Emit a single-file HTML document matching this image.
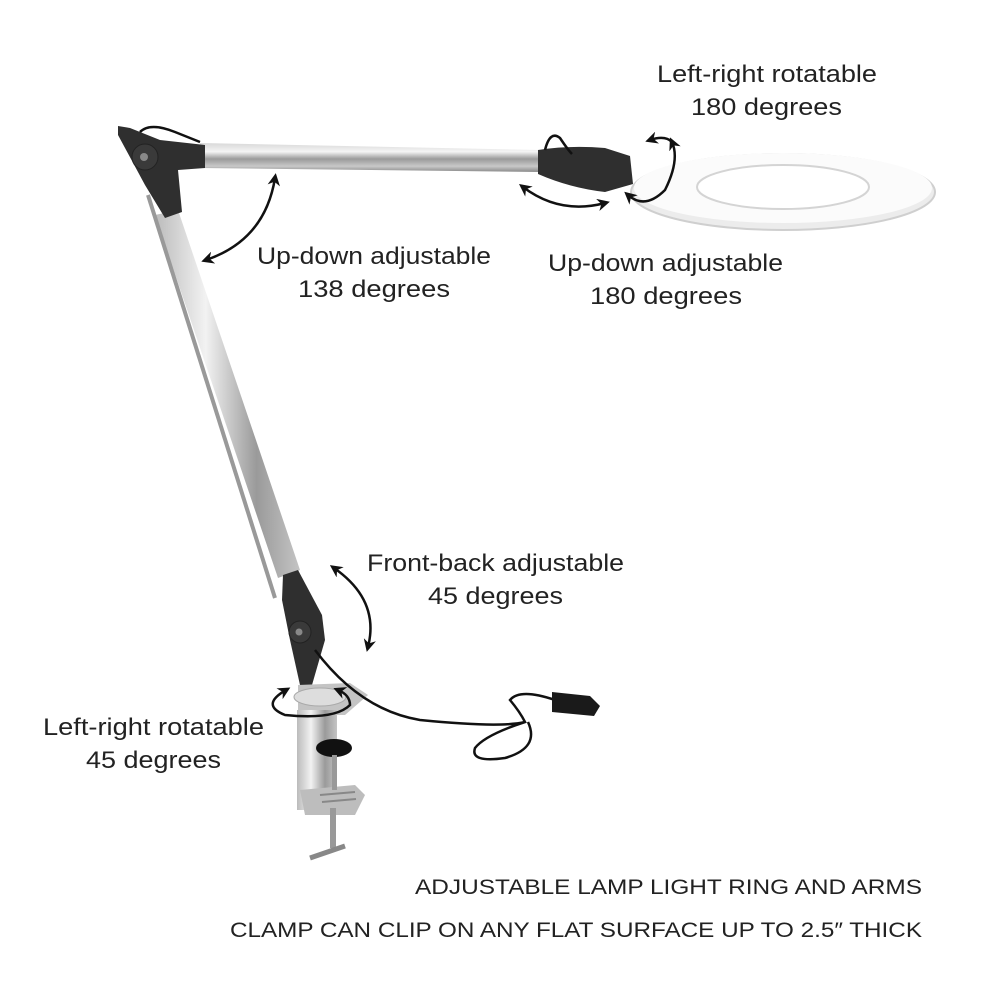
<!DOCTYPE html>
<html><head><style>
html,body{margin:0;padding:0;background:#fff;}
svg{display:block;}
text{font-family:"Liberation Sans",sans-serif;fill:#222;}
</style></head><body>
<svg width="1000" height="1000" viewBox="0 0 1000 1000" xmlns="http://www.w3.org/2000/svg">
<defs>
<marker id="ah" viewBox="0 0 10 10" refX="6" refY="5" markerWidth="5" markerHeight="5" orient="auto-start-reverse">
<path d="M0,0 L10,5 L0,10 L3,5 z" fill="#111"/></marker>
<linearGradient id="sil" x1="0" y1="0" x2="0" y2="1">
<stop offset="0" stop-color="#d8d8d8"/><stop offset="0.3" stop-color="#f4f4f4"/><stop offset="0.55" stop-color="#9a9a9a"/><stop offset="0.8" stop-color="#c8c8c8"/><stop offset="1" stop-color="#888"/></linearGradient>
<linearGradient id="sil2" x1="0" y1="0" x2="1" y2="0">
<stop offset="0" stop-color="#bbb"/><stop offset="0.35" stop-color="#f2f2f2"/><stop offset="0.7" stop-color="#9a9a9a"/><stop offset="1" stop-color="#c4c4c4"/></linearGradient>
</defs>

<!-- ring -->
<ellipse cx="783" cy="192" rx="152" ry="38" fill="#ececec" stroke="#cfcfcf" stroke-width="2"/>
<ellipse cx="783" cy="188" rx="149" ry="35" fill="#fbfbfb"/>
<ellipse cx="783" cy="187" rx="86" ry="22" fill="#fff" stroke="#d4d4d4" stroke-width="2"/>

<!-- top arm -->
<path d="M200,143 L540,150 L540,172 L200,168 Z" fill="url(#sil)"/>
<!-- head joint -->
<path d="M538,150 Q570,145 605,148 L630,156 L633,184 L605,192 Q570,188 538,174 Z" fill="#2f2f2f"/>
<path d="M545,150 Q550,130 560,138 Q568,150 572,154" fill="none" stroke="#111" stroke-width="2.5"/>
<!-- long arm -->
<path d="M155,215 L178,210 L300,570 L278,578 Z" fill="url(#sil2)"/>
<path d="M148,195 L275,598" stroke="#999" stroke-width="4"/>
<!-- top-left joint -->
<path d="M118,126 L130,128 L160,140 L205,145 L205,168 L178,170 L182,212 L165,218 L145,185 L118,135 Z" fill="#2f2f2f"/>
<circle cx="145" cy="157" r="13" fill="#3a3a3a" stroke="#222"/>
<circle cx="144" cy="157" r="4" fill="#888"/>
<path d="M140,132 Q150,122 175,132 L200,142" fill="none" stroke="#111" stroke-width="2.5"/>
<!-- lower joint -->
<path d="M283,575 L298,570 L322,615 L325,640 L312,685 L300,685 L290,640 L282,600 Z" fill="#2f2f2f"/>
<circle cx="300" cy="632" r="11" fill="#3a3a3a" stroke="#222"/>
<circle cx="299" cy="632" r="3.5" fill="#888"/>
<!-- base -->
<path d="M298,685 L350,683 L368,695 L345,715 L298,715 Z" fill="#c4c4c4"/>
<ellipse cx="320" cy="697" rx="26" ry="9" fill="#ddd" stroke="#aaa"/>
<rect x="297" y="710" width="40" height="100" fill="url(#sil2)"/>
<path d="M300,790 L355,785 L365,795 L355,815 L305,815 Z" fill="#bdbdbd"/>
<path d="M320,795 L355,792 M322,802 L356,799" stroke="#888" stroke-width="2"/>
<rect x="330" y="808" width="6" height="40" fill="#999"/>
<path d="M310,858 L345,846" stroke="#888" stroke-width="5"/>
<ellipse cx="334" cy="748" rx="18" ry="9" fill="#111"/>
<rect x="332" y="755" width="5" height="35" fill="#999"/>
<!-- cord -->
<path d="M315,650 Q360,710 420,720 Q500,728 525,722 Q520,712 510,700 Q520,688 555,700 M528,722 Q540,748 505,758 Q470,763 475,748 Q485,735 525,722" fill="none" stroke="#111" stroke-width="2.5"/>
<path d="M552,692 L590,696 L600,706 L594,716 L552,712 Z" fill="#1a1a1a"/>

<!-- arrows -->
<g fill="none" stroke="#111" stroke-width="2.5">
<path d="M206,260 Q265,240 275,178" marker-start="url(#ah)" marker-end="url(#ah)"/>
<path d="M523,187 Q560,215 605,203" marker-start="url(#ah)" marker-end="url(#ah)"/>
<path d="M672,142 Q680,160 665,190 Q645,210 628,195" marker-start="url(#ah)" marker-end="url(#ah)"/>
<path d="M672,142 Q665,135 650,140" marker-end="url(#ah)"/>
<path d="M334,568 Q380,600 368,647" marker-start="url(#ah)" marker-end="url(#ah)"/>
<path d="M286,690 Q260,705 285,715 Q335,720 350,705 Q350,695 338,690" marker-start="url(#ah)" marker-end="url(#ah)"/>
</g>

<!-- labels -->
<g font-size="24" lengthAdjust="spacingAndGlyphs">
<text x="657" y="82" textLength="220" lengthAdjust="spacingAndGlyphs">Left-right rotatable</text>
<text x="691" y="115" textLength="151" lengthAdjust="spacingAndGlyphs">180 degrees</text>
<text x="257" y="264" textLength="234" lengthAdjust="spacingAndGlyphs">Up-down adjustable</text>
<text x="298" y="297" textLength="152" lengthAdjust="spacingAndGlyphs">138 degrees</text>
<text x="548" y="271" textLength="235" lengthAdjust="spacingAndGlyphs">Up-down adjustable</text>
<text x="590" y="304" textLength="152" lengthAdjust="spacingAndGlyphs">180 degrees</text>
<text x="367" y="571" textLength="257" lengthAdjust="spacingAndGlyphs">Front-back adjustable</text>
<text x="428" y="604" textLength="135" lengthAdjust="spacingAndGlyphs">45 degrees</text>
<text x="43" y="735" textLength="221" lengthAdjust="spacingAndGlyphs">Left-right rotatable</text>
<text x="86" y="768" textLength="135" lengthAdjust="spacingAndGlyphs">45 degrees</text>
</g>
<g font-size="21">
<text x="415" y="894" textLength="507" lengthAdjust="spacingAndGlyphs">ADJUSTABLE LAMP LIGHT RING AND ARMS</text>
<text x="230" y="937" textLength="692" lengthAdjust="spacingAndGlyphs">CLAMP CAN CLIP ON ANY FLAT SURFACE UP TO 2.5″ THICK</text>
</g>
</svg>
</body></html>
